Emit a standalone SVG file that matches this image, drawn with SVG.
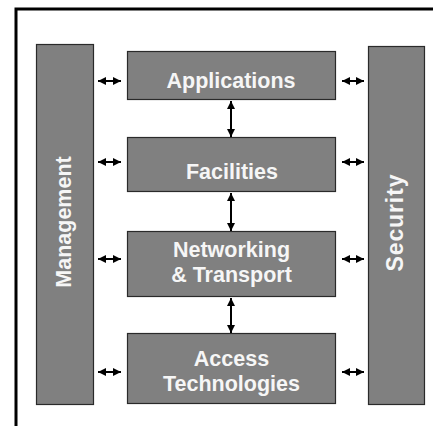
<svg xmlns="http://www.w3.org/2000/svg" width="433" height="426" viewBox="0 0 433 426">
<defs>
<marker id="ah" viewBox="0 0 8 8" refX="8" refY="4" markerWidth="8" markerHeight="8" markerUnits="userSpaceOnUse" orient="auto-start-reverse">
<path d="M0,0 L8,4 L0,8 z" fill="#000"/>
</marker>
</defs>
<style>
.box{fill:#808080;stroke:#2a2a2a;stroke-width:1.2}
.t{font-family:"Liberation Sans",Arial,sans-serif;font-weight:bold;font-size:21.5px;fill:#f6f6f6;text-anchor:middle}
.c{stroke:#000;stroke-width:2;fill:none;marker-start:url(#ah);marker-end:url(#ah)}
</style>
<rect x="16" y="9" width="440" height="440" fill="none" stroke="#000" stroke-width="3"/>
<g id="management">
<rect class="box" x="36.5" y="44.5" width="57" height="360"/>
<text class="t" transform="translate(71,222) rotate(-90)">Management</text>
</g>
<g id="security">
<rect class="box" x="368.5" y="46.5" width="56" height="358"/>
<text class="t" style="font-size:23px" transform="translate(403,223) rotate(-90)" textLength="97" lengthAdjust="spacing">Security</text>
</g>
<g id="applications">
<rect class="box" x="127.5" y="51.5" width="208" height="48"/>
<text class="t" x="231" y="88">Applications</text>
</g>
<g id="facilities">
<rect class="box" x="127.5" y="137.5" width="208" height="54"/>
<text class="t" x="232" y="179">Facilities</text>
</g>
<g id="networking">
<rect class="box" x="127.5" y="231.5" width="208" height="65"/>
<text class="t" x="231.5" y="257">Networking</text>
<text class="t" x="231.5" y="282">&amp; Transport</text>
</g>
<g id="access">
<rect class="box" x="127.5" y="333.5" width="208" height="70"/>
<text class="t" x="231.5" y="366">Access</text>
<text class="t" x="231.5" y="391">Technologies</text>
</g>
<g id="connectors">
<line class="c" x1="98" y1="81" x2="121" y2="81"/>
<line class="c" x1="98" y1="162" x2="121" y2="162"/>
<line class="c" x1="98" y1="259" x2="121" y2="259"/>
<line class="c" x1="98" y1="372" x2="121" y2="372"/>
<line class="c" x1="342" y1="81" x2="364" y2="81"/>
<line class="c" x1="342" y1="162" x2="364" y2="162"/>
<line class="c" x1="342" y1="259" x2="364" y2="259"/>
<line class="c" x1="342" y1="372" x2="364" y2="372"/>
<line class="c" x1="231" y1="101" x2="231" y2="137"/>
<line class="c" x1="231" y1="193" x2="231" y2="231"/>
<line class="c" x1="231" y1="298" x2="231" y2="333"/>
</g>
</svg>
